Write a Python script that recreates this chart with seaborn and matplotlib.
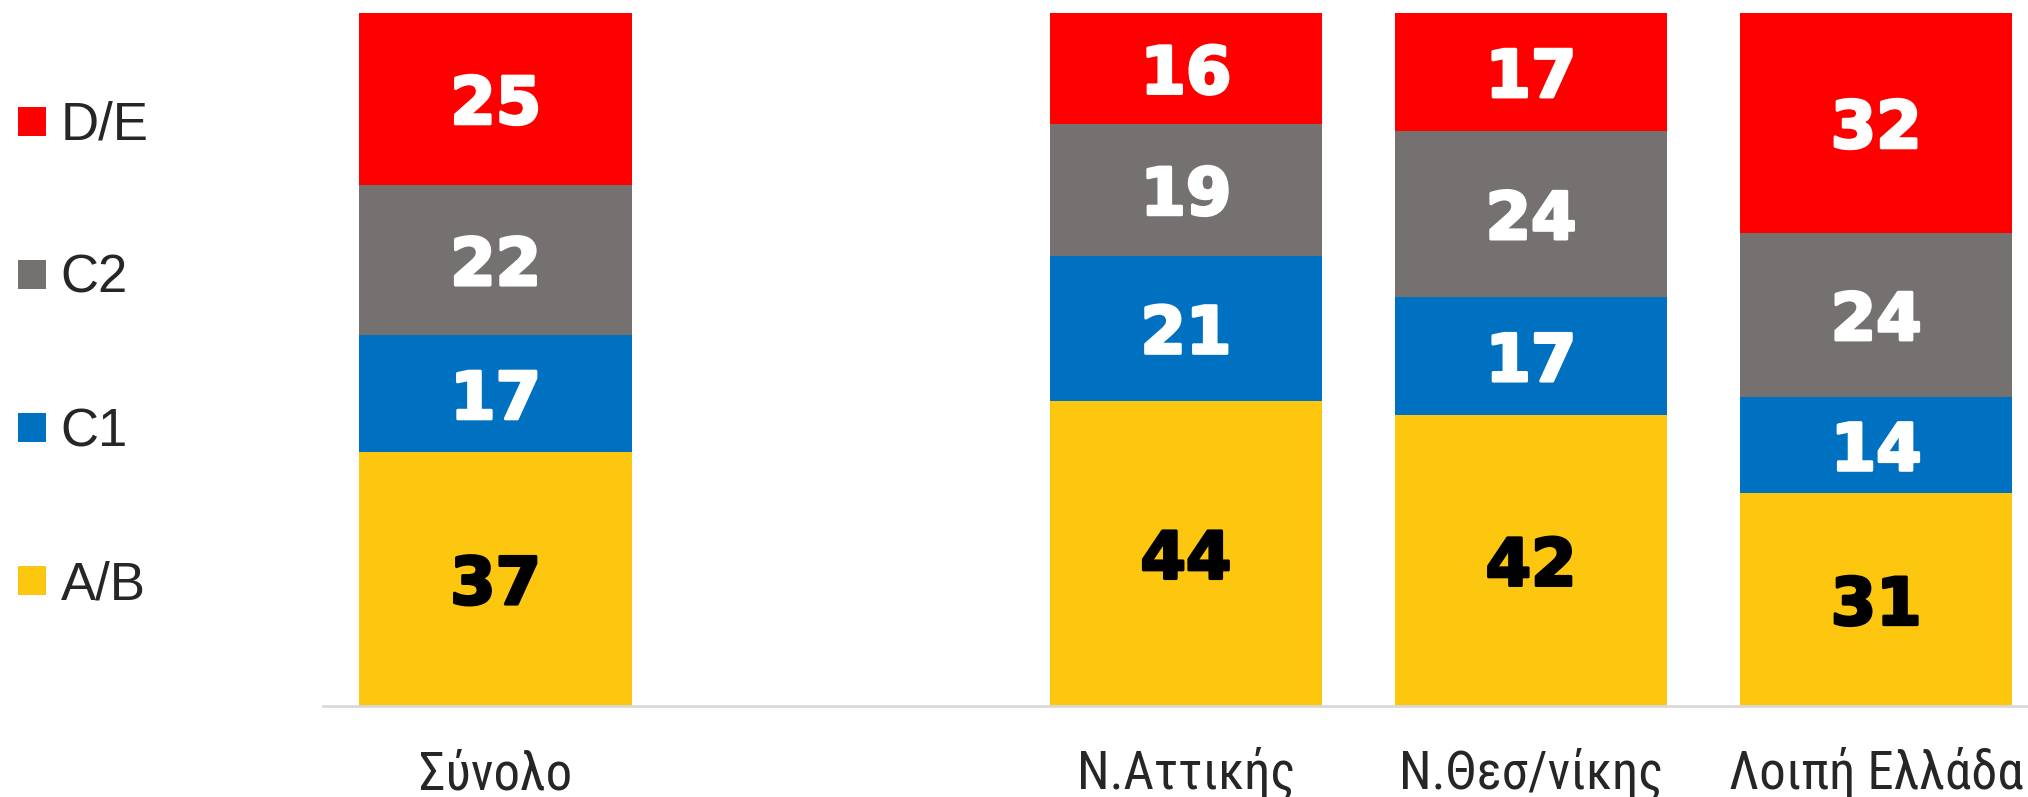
import matplotlib
matplotlib.use("Agg")
import matplotlib.pyplot as plt
import matplotlib.patheffects as pe
from matplotlib import font_manager
from matplotlib.patches import Patch
import seaborn as sns
import numpy as np
import pandas as pd

# Regions (the blank slot keeps the gap after "Σύνολο")
REGIONS = ["Σύνολο", " ", "Ν.Αττικής", "Ν.Θεσ/νίκης", "Λοιπή Ελλάδα"]
SERIES = ["A/B", "C1", "C2", "D/E"]

AB = [37, 44, 42, 31]
C1 = [17, 21, 17, 14]
C2 = [22, 19, 24, 24]
DE = [25, 16, 17, 32]
BAR_REGIONS = ["Σύνολο", "Ν.Αττικής", "Ν.Θεσ/νίκης", "Λοιπή Ελλάδα"]

COLORS = {"A/B": "#FDC70F", "C1": "#0070C0", "C2": "#767171", "D/E": "#FF0000"}
TEXT_COLORS = {"A/B": "black", "C1": "white", "C2": "white", "D/E": "white"}

df = pd.DataFrame({"region": BAR_REGIONS, "A/B": AB, "C1": C1, "C2": C2, "D/E": DE})
# 100% stacked: normalise each bar
totals = df[SERIES].sum(axis=1)
norm = df[SERIES].div(totals, axis=0) * 100
cum = norm.cumsum(axis=1)

sns.set_style("white")
plt.rcParams["font.family"] = ["Liberation Sans", "DejaVu Sans"]

# pick a narrow family for the region names if one is installed
installed = {f.name for f in font_manager.fontManager.ttflist}
tick_family, tick_size = "Liberation Sans", 33
for name, size in [("Liberation Sans Narrow", 40), ("Roboto Condensed", 38),
                   ("Open Sans Condensed", 38)]:
    if name in installed:
        tick_family, tick_size = name, size
        break

fig = plt.figure(figsize=(20.28, 7.97), dpi=100)
ax = fig.add_axes([0.1593, 0.1142, 1 - 0.1593, 0.9837 - 0.1142])

# draw from the top layer down so lower layers cover the cumulative bars
for s in reversed(SERIES):
    plot_df = pd.DataFrame({"region": BAR_REGIONS, "top": cum[s]})
    sns.barplot(data=plot_df, x="region", y="top", order=REGIONS, color=COLORS[s],
                saturation=1, width=0.79, ax=ax, linewidth=0)

# value labels at middle of each segment
pos = {r: i for i, r in enumerate(REGIONS)}
for i, r in enumerate(BAR_REGIONS):
    bottom = 0
    for s in SERIES:
        h = norm.loc[i, s]
        t = ax.text(pos[r], bottom + h / 2, str(df.loc[i, s]), ha="center",
                    va="center_baseline", fontsize=47, fontweight="bold",
                    family="DejaVu Sans", color=TEXT_COLORS[s])
        # thicken the strokes a little, the original uses a very heavy face
        t.set_path_effects([pe.withStroke(linewidth=2.2, foreground=TEXT_COLORS[s])])
        bottom += h

ax.set_xlim(-0.5, 4.44)
ax.set_ylim(0, 100)
ax.set_xlabel("")
ax.set_ylabel("")
ax.set_yticks([])
ax.set_xticks(range(len(REGIONS)))
ax.set_xticklabels(REGIONS, fontsize=tick_size, family=[tick_family, "DejaVu Sans"],
                   va="baseline")
ax.tick_params(axis="x", length=0, pad=60)
for side in ["top", "right", "left"]:
    ax.spines[side].set_visible(False)
ax.spines["bottom"].set_color("#D9D9D9")
ax.spines["bottom"].set_linewidth(2)

handles = [Patch(facecolor=COLORS[s], edgecolor="none", label=s) for s in reversed(SERIES)]
fig.legend(handles=handles, loc="upper left", bbox_to_anchor=(-0.0015, 0.9), frameon=False,
           fontsize=38, handlelength=0.53, handleheight=0.47, handletextpad=0.28,
           labelspacing=1.955, borderaxespad=0.0)

fig.savefig("out.png", dpi=100)
